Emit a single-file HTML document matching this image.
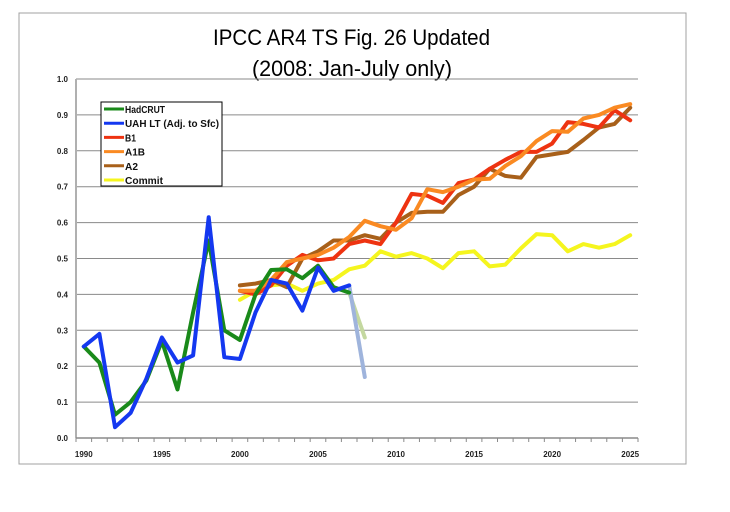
<!DOCTYPE html>
<html><head><meta charset="utf-8"><style>
html,body{margin:0;padding:0;background:#fff;}
svg{display:block;font-family:"Liberation Sans",sans-serif;}
</style></head><body>
<svg id="chart" width="730" height="512">
<rect x="19" y="13" width="667" height="451" fill="#fff" stroke="#a0a0a0" stroke-width="1"/>
<text x="213" y="45" font-size="22" textLength="277" lengthAdjust="spacingAndGlyphs">IPCC AR4 TS Fig. 26 Updated</text>
<text x="252" y="76" font-size="22" textLength="200" lengthAdjust="spacingAndGlyphs">(2008: Jan-July only)</text>
<g id="grid"></g><g id="axes"></g><g id="series"></g><g id="legend"></g>
</svg>
<script>
const years = [];
for (let y = 1990; y <= 2025; y++) years.push(y);
const yTicks = [0,0.1,0.2,0.3,0.4,0.5,0.6,0.7,0.8,0.9,1.0];
const xLabels = [1990,1995,2000,2005,2010,2015,2020,2025];
const hadYears = [1990,1991,1992,1993,1994,1995,1996,1997,1998,1999,2000,2001,2002,2003,2004,2005,2006,2007];
const hadcrut = [0.255,0.21,0.065,0.10,0.16,0.27,0.135,0.35,0.55,0.30,0.273,0.40,0.468,0.47,0.445,0.48,0.42,0.405];
const hadcrut2008 = [0.405,0.28];
const uah = [0.255,0.29,0.03,0.07,0.165,0.28,0.21,0.23,0.615,0.225,0.22,0.35,0.44,0.43,0.355,0.475,0.41,0.425];
const uah2008 = [0.425,0.17];
const projYears = [];
for (let y = 2000; y <= 2025; y++) projYears.push(y);
const b1 = [0.41,0.40,0.425,0.48,0.51,0.495,0.50,0.54,0.55,0.54,0.60,0.68,0.675,0.655,0.71,0.72,0.75,0.775,0.797,0.797,0.82,0.88,0.875,0.865,0.913,0.885];
const a1b = [0.41,0.41,0.44,0.49,0.50,0.51,0.53,0.56,0.605,0.59,0.58,0.612,0.693,0.685,0.70,0.72,0.722,0.758,0.785,0.827,0.855,0.853,0.89,0.90,0.92,0.93];
const a2 = [0.425,0.43,0.44,0.42,0.50,0.52,0.55,0.55,0.565,0.555,0.60,0.627,0.63,0.63,0.677,0.70,0.75,0.73,0.725,0.783,0.79,0.797,0.83,0.865,0.875,0.92];
const commit = [0.385,0.41,0.425,0.43,0.41,0.43,0.44,0.47,0.48,0.52,0.505,0.515,0.50,0.473,0.515,0.52,0.478,0.483,0.528,0.568,0.565,0.52,0.54,0.53,0.54,0.565];

const NS = "http://www.w3.org/2000/svg";
const L = 76, R = 638, T = 79, B = 438;
const step = (R - L) / years.length;
function xs(yr){ return L + step * (yr - 1990 + 0.5); }
function ys(v){ return B - (B - T) * v; }
function mk(tag, attrs, parent){ const e = document.createElementNS(NS, tag); for (const k in attrs) e.setAttribute(k, attrs[k]); parent.appendChild(e); return e; }
const grid = document.getElementById('grid'), axes = document.getElementById('axes'), ser = document.getElementById('series'), leg = document.getElementById('legend');

yTicks.forEach(v => {
  if (v > 0) {
    const g = mk('line', {x1:L, x2:R, y1:ys(v), y2:ys(v), stroke:'#8a8a8a', 'stroke-width':1}, grid);
    
    
  }
  const t = mk('text', {x:L-8, y:ys(v)+3, 'text-anchor':'end', 'font-size':8, 'font-weight':'bold', fill:'#222'}, axes);
  t.textContent = v.toFixed(1);
  
  
});
const ya = mk('line', {x1:L, x2:L, y1:T, y2:B, stroke:'#b0b0b0', 'stroke-width':2}, axes);


const xa = mk('line', {x1:L, x2:R, y1:B, y2:B, stroke:'#8a8a8a', 'stroke-width':1.5}, axes);


for (let i = 0; i <= years.length; i++) {
  const tk = mk('line', {x1:L+i*step, x2:L+i*step, y1:B, y2:B+4, stroke:'#8a8a8a', 'stroke-width':1}, axes);
  
  
}
xLabels.forEach(yr => {
  const t = mk('text', {x:xs(yr), y:B+19, 'text-anchor':'middle', 'font-size':8, 'font-weight':'bold', fill:'#222'}, axes);
  t.textContent = yr;
  
  
});

function line(xv, vals, color, name){
  const pts = vals.map((v,i) => xs(xv[i]).toFixed(1) + ',' + ys(v).toFixed(1)).join(' ');
  const p = mk('polyline', {points:pts, fill:'none', stroke:color, 'stroke-width':4, 'stroke-linejoin':'round', 'stroke-linecap':'round'}, ser);
  
  
}
line([2007,2008], hadcrut2008, '#c4d8a0', 'hadcrut-2008-line');
line([2007,2008], uah2008, '#9fb4dc', 'uah-2008-line');
line(projYears, commit, '#f5f51e', 'commit-line');
line(projYears, a2, '#a8601a', 'a2-line');
line(projYears, b1, '#ee3311', 'b1-line');
line(projYears, a1b, '#fa8a22', 'a1b-line');
line(hadYears, hadcrut, '#1a8a1a', 'hadcrut-line');
line(hadYears, uah, '#1438f0', 'uah-line');

const lb = mk('rect', {x:101, y:102, width:121, height:84, fill:'#fff', stroke:'#000', 'stroke-width':1}, leg);


const legNames = ['HadCRUT','UAH LT (Adj. to Sfc)','B1','A1B','A2','Commit'];
const legWidths = [40, 94, 11, 20, 13, 38];
const legColors = ['#1a8a1a','#1438f0','#ee3311','#fa8a22','#a8601a','#f5f51e'];
legNames.forEach((n,i) => {
  const y = 109 + i * 14.2;
  const s = mk('line', {x1:104, x2:124, y1:y, y2:y, stroke:legColors[i], 'stroke-width':3}, leg);
  
  
  const t = mk('text', {x:125, y:y+4, 'font-size':10.5, 'font-weight':'bold', fill:'#111', textLength:legWidths[i], lengthAdjust:'spacingAndGlyphs'}, leg);
  t.textContent = n;
  
  
});
</script>
</body></html>
